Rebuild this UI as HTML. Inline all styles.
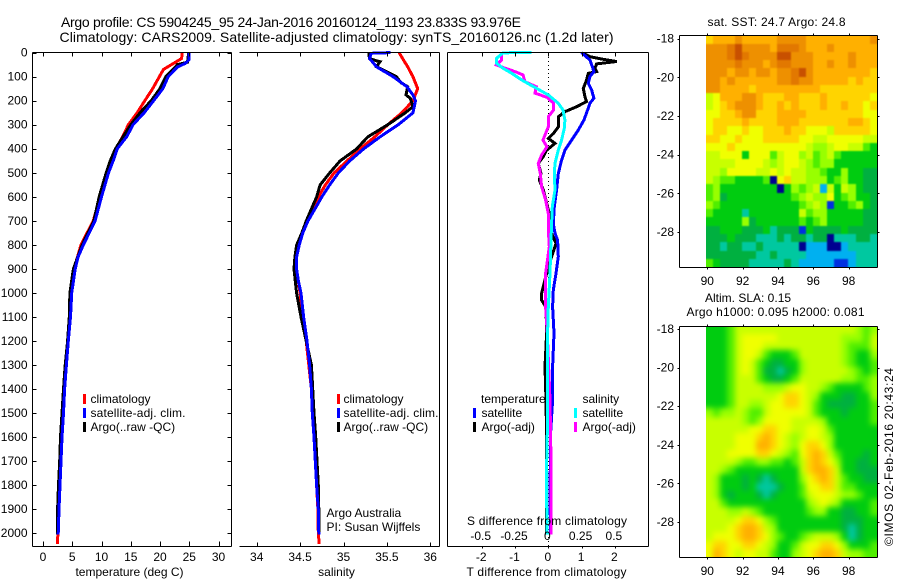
<!DOCTYPE html>
<html>
<head>
<meta charset="utf-8">
<title>Argo profile</title>
<style>
html,body{margin:0;padding:0;background:#fff}
svg{display:block}
text{font-family:"Liberation Sans",sans-serif;font-size:12px;fill:#000}
.title{font-size:14px}
</style>
</head>
<body>
<svg id="chart" xmlns="http://www.w3.org/2000/svg" width="900" height="580" viewBox="0 0 900 580">
<defs>
<clipPath id="clip-sst"><rect x="706" y="35" width="171" height="232"/></clipPath>
<clipPath id="clip-sla"><rect x="706" y="326" width="171" height="231"/></clipPath>
<filter id="soft-sst" filterUnits="userSpaceOnUse" x="680" y="10" width="220" height="280" color-interpolation-filters="sRGB"><feGaussianBlur stdDeviation="0.8"/></filter>
<filter id="soft-sla" filterUnits="userSpaceOnUse" x="680" y="300" width="220" height="280" color-interpolation-filters="sRGB"><feGaussianBlur stdDeviation="3"/></filter>
</defs>
<rect width="900" height="580" fill="#fff"/>
<text class="title" x="61" y="27" textLength="460">Argo profile: CS 5904245_95 24-Jan-2016 20160124_1193 23.833S 93.976E</text>
<text class="title" x="59.5" y="42" textLength="554">Climatology: CARS2009. Satellite-adjusted climatology: synTS_20160126.nc (1.2d later)</text>
<g id="marks"></g>
<g id="axes"></g>

<g>
<rect x="83" y="394" width="3" height="10" fill="#f00"/>
<text x="90.5" y="403">climatology</text>
<rect x="83" y="408" width="3" height="10" fill="#00f"/>
<text x="90.5" y="417" textLength="95">satellite-adj. clim.</text>
<rect x="83" y="422" width="3" height="10" fill="#000"/>
<text x="90.5" y="431">Argo(..raw -QC)</text>
</g>
<g>
<rect x="337" y="394" width="3" height="10" fill="#f00"/>
<text x="343.5" y="403">climatology</text>
<rect x="337" y="408" width="3" height="10" fill="#00f"/>
<text x="343.5" y="417" textLength="95">satellite-adj. clim.</text>
<rect x="337" y="422" width="3" height="10" fill="#000"/>
<text x="343.5" y="431">Argo(..raw -QC)</text>
</g>
<text x="326.5" y="517">Argo Australia</text>
<text x="326.5" y="531">PI: Susan Wijffels</text>

<g>
<text x="481" y="403">temperature</text>
<rect x="473" y="408" width="3" height="10" fill="#00f"/>
<text x="481.5" y="417">satellite</text>
<rect x="473" y="422" width="3" height="10" fill="#000"/>
<text x="481.5" y="431">Argo(-adj)</text>
<text x="582.5" y="403">salinity</text>
<rect x="574" y="408" width="3" height="10" fill="#0ff"/>
<text x="582.5" y="417">satellite</text>
<rect x="574" y="422" width="3" height="10" fill="#f0f"/>
<text x="582.5" y="431">Argo(-adj)</text>
</g>

<text x="129.5" y="576" text-anchor="middle">temperature (deg C)</text>
<text x="336.5" y="576" text-anchor="middle">salinity</text>
<text x="546.5" y="576" text-anchor="middle" textLength="160">T difference from climatology</text>
<text x="547" y="525" text-anchor="middle" textLength="160">S difference from climatology</text>
<text x="707.5" y="26" textLength="138">sat. SST: 24.7 Argo: 24.8</text>
<text x="705" y="302">Altim. SLA: 0.15</text>
<text x="686.5" y="316" textLength="178">Argo h1000: 0.095 h2000: 0.081</text>
<text transform="translate(893,546) rotate(-90)" textLength="178">©IMOS 02-Feb-2016 20:43:24</text>
</svg>

<script>
/* ---------- profile data ---------- */
const depthTicks = [0,100,200,300,400,500,600,700,800,900,1000,1100,1200,1300,1400,1500,1600,1700,1800,1900,2000];
const tempTicks = [0,5,10,15,20,25,30];
const salTicks = [34,34.5,35,35.5,36];
const salTickLabels = ['34','34.5','35','35.5','36'];
const tDiffTicks = [-2,-1,0,1,2];
const tDiffTickLabels = ['-2','-1','0','1','2'];
const sDiffTicks = [-0.5,-0.25,0,0.25,0.5];
const sDiffTickLabels = ['-0.5','-0.25','0','0.25','0.5'];
const lonTicks = [90,92,94,96,98];
const latTicks = [-18,-20,-22,-24,-26,-28];

const tempClimDepth = [0,25,45,70,100,150,200,250,300,350,400,500,600,700,800,900,1000,1100,1200,1300,1400,1500,1600,1700,1800,1900,2005,2045];
const tempClimValue = [23.8,23.7,22.3,20.6,19.9,18.75,17.4,16.1,14.6,13.6,12.5,11,9.75,8.6,6.5,5.3,4.8,4.65,4.3,3.98,3.7,3.48,3.23,3.06,2.88,2.7,2.55,2.45];
const tempSatDepth = [0,30,45,60,100,150,200,250,300,350,400,450,500,600,700,800,850,900,1000,1100,1200,1300,1400,1500,1600,1700,1800,1900,2005];
const tempSatValue = [24.96,24.96,24.3,23,21.4,20.5,18.9,17.3,15.4,14.3,12.7,12,11.2,10,8.9,6.9,6,5.5,4.9,4.7,4.33,4,3.7,3.5,3.25,3.08,2.9,2.73,2.6];
const tempArgoDepth = [0,40,50,100,150,200,250,300,350,400,450,500,600,700,800,900,1000,1100,1200,1300,1400,1500,1600,1700,1800,1900,2005];
const tempArgoValue = [24.9,24.7,23,21,20,18.5,16.6,15,13.7,12.4,11.5,10.8,9.6,8.7,6.7,5.2,4.6,4.5,4.2,3.8,3.5,3.25,3,2.85,2.65,2.5,2.45];

const salClimDepth = [0,24,59,100,150,201,251,300,351,401,451,501,551,601,651,701,751,801,851,901,1001,1100,1200,1300,1400,1500,1600,1700,1800,1900,2000,2045];
const salClimValue = [35.64,35.68,35.74,35.8,35.855,35.8,35.67,35.51,35.36,35.19,35.04,34.89,34.79,34.71,34.645,34.58,34.52,34.46,34.44,34.46,34.5,34.53,34.57,34.6,34.63,34.64,34.66,34.675,34.69,34.705,34.71,34.72];
const salSatDepth = [0,3,24,59,100,142,176,201,251,300,351,401,451,501,551,601,651,701,751,801,851,901,951,1001,1100,1200,1300,1400,1500,1600,1700,1800,1900,2005];
const salSatValue = [35.54,35.32,35.3,35.38,35.57,35.73,35.8,35.83,35.8,35.63,35.42,35.23,35.07,34.94,34.84,34.75,34.67,34.59,34.53,34.49,34.46,34.46,34.48,34.51,34.54,34.58,34.61,34.63,34.64,34.66,34.675,34.69,34.71,34.715];
const salArgoDepth = [0,24,32,38,59,80,100,125,142,176,190,225,251,300,351,401,451,501,551,601,651,701,751,801,851,901,1001,1100,1200,1300,1400,1500,1600,1700,1800,1900,2005];
const salArgoValue = [35.29,35.3,35.36,35.42,35.38,35.5,35.61,35.66,35.74,35.72,35.77,35.8,35.71,35.51,35.28,35.15,34.96,34.84,34.73,34.69,34.63,34.57,34.52,34.46,34.44,34.43,34.46,34.51,34.57,34.63,34.645,34.66,34.68,34.695,34.71,34.715,34.715];

const diffTSatDepth = [0,31,58,79,100,128,155,190,211,239,281,322,364,406,447,503,572,641,711,752,780,849,919,988,1058,1168,1307,1446,1584,1723,1862,2005];
const diffTSatValue = [1,1.25,1.32,1.37,1.25,1.2,1.3,1.37,1.25,1.18,1.07,0.9,0.7,0.5,0.4,0.3,0.25,0.18,0.15,0.2,0.28,0.3,0.23,0.15,0.13,0.17,0.13,0.13,0.07,0.06,0.05,0.07];
const diffTArgoDepth = [0,3,17,28,37,47,65,79,86,114,149,183,204,225,246,267,309,337,357,378,406,433,461,503,530,572,627,669,738,794,849,919,1002,1030,1060,1168,1307,1446,1600,2005];
const diffTArgoValue = [1.05,1.05,1.25,1.65,2.05,1.45,1.4,1.45,1.2,1.15,1.05,1.1,1.15,0.85,0.5,0.3,0.3,0.15,0,0.2,-0.05,-0.15,-0.3,-0.22,-0.27,-0.15,-0.05,0.03,0.05,0.23,0.1,-0.05,-0.2,-0.2,-0.07,-0.05,-0.1,-0.07,-0.05,-0.05];
const diffSSatDepth = [0,1,24,44,65,86,114,142,176,211,239,281,315,364,406,461,503,572,641,711,780,919,1058,1168,1307,1446,1584,1723,1862,2005];
const diffSSatValue = [-0.125,-0.34,-0.39,-0.39,-0.34,-0.275,-0.2,-0.11,0,0.075,0.11,0.125,0.12,0.1,0.075,0.05,0.045,0.05,0.03,0.025,0.02,0.0125,0,-0.005,-0.0075,-0.0075,-0.0075,-0.0125,-0.0125,-0.0075];
const diffSArgoDepth = [0,3,31,51,65,79,93,121,142,169,186,211,239,267,309,343,364,392,426,461,503,558,613,669,738,808,919,1058,1168,1446,1700,2005];
const diffSArgoValue = [-0.35,-0.35,-0.35,-0.39,-0.325,-0.25,-0.19,-0.175,-0.09,-0.1,-0.01,0.04,0.04,0,0,-0.025,-0.04,-0.01,-0.05,-0.075,-0.06,-0.05,-0.02,0,0,0.0075,-0.02,-0.02,-0.0075,0.0125,0.02,0.02];

/* ---------- map data: colour class per cell, north to south ---------- */
const levelColours = ['#000090','#0030e0','#00b0f0','#00c8a0','#00b040','#00cc10','#50ee00','#98ff00','#c8ff00','#f0ff00','#ffd400','#ffb000','#ee9000','#e27800','#c85000'];
const sstRows = [
[10,11,11,11,12,11,11,11,11,11,12,12,12,12,11,11,11,11,11,11,11,11,11,12],
[12,12,12,13,14,12,12,12,12,11,13,13,13,12,11,11,11,12,11,11,11,11,11,11],
[12,12,12,13,14,13,12,12,12,12,14,14,12,12,12,11,11,11,11,11,12,11,11,11],
[12,12,12,12,13,12,12,12,11,12,13,13,12,12,12,11,11,12,11,11,12,11,11,11],
[12,12,12,11,12,12,11,12,12,11,12,12,13,14,12,11,11,11,11,11,11,11,11,10],
[12,12,11,12,11,11,11,11,11,11,12,12,13,12,12,11,11,11,11,11,10,11,10,10],
[12,12,11,11,11,11,10,11,11,11,11,11,11,11,11,11,10,10,10,10,10,10,10,10],
[8,9,11,11,11,12,12,11,10,10,10,11,11,10,10,10,11,10,10,10,10,10,10,9],
[8,9,10,11,12,12,12,11,10,10,11,10,11,10,10,10,11,10,10,11,10,10,9,10],
[9,9,10,10,11,12,12,10,10,10,11,11,11,11,10,10,10,10,10,10,10,10,9,9],
[9,10,10,10,10,11,10,10,10,10,11,11,11,10,10,10,10,10,10,10,11,11,10,9],
[9,10,10,9,9,10,9,9,10,10,10,11,10,10,9,9,9,8,10,10,10,10,10,9],
[10,10,9,9,10,9,9,9,10,10,10,10,10,9,9,8,8,9,9,9,9,9,8,8],
[9,9,9,10,9,9,9,9,9,9,9,9,9,9,8,7,7,8,9,9,8,8,6,5],
[8,8,9,9,9,5,9,9,9,6,8,9,9,7,8,6,7,8,6,5,5,5,5,5],
[8,8,8,8,9,9,9,9,8,7,8,9,9,8,7,6,7,7,5,5,5,5,5,5],
[8,8,7,9,9,9,9,8,8,9,8,9,8,8,7,7,6,5,5,7,5,5,4,4],
[8,7,6,6,5,5,5,5,6,0,9,10,8,8,7,7,7,5,6,7,5,5,4,4],
[6,7,5,5,5,5,5,5,5,5,0,5,7,6,7,8,2,8,5,8,7,5,4,4],
[6,7,4,5,5,5,5,5,5,5,5,5,6,7,8,7,7,9,5,6,7,5,5,4],
[7,6,5,5,5,5,5,5,5,5,5,5,5,6,7,8,7,1,5,5,6,7,5,4],
[6,5,5,5,5,3,5,5,5,5,5,5,5,8,6,7,7,5,5,5,5,5,4,4],
[5,5,5,5,5,7,4,5,5,5,5,5,5,6,5,6,7,5,5,5,5,5,4,4],
[4,4,5,5,5,4,4,4,5,3,4,4,4,1,5,4,4,4,4,5,4,4,4,4],
[4,4,4,5,4,4,4,3,3,3,4,3,4,4,3,4,4,0,3,3,3,4,4,3],
[4,4,3,4,4,3,3,4,3,3,3,3,3,0,2,2,2,0,0,2,3,3,3,3],
[4,4,4,4,4,4,4,3,3,4,3,3,3,3,2,2,2,2,2,2,2,3,3,3],
[6,5,4,4,4,4,3,3,3,3,3,4,3,2,2,2,2,2,1,1,2,3,3,3]
];
const slaRows = [
[5,5,5,6,8,8,8,8,8,8,8,8,8,8,8,8,8,8,8,8,8,7,6,7],
[5,5,5,6,8,9,9,9,9,9,8,8,8,8,8,8,8,8,8,7,7,7,6,8],
[5,5,5,6,8,9,9,9,8,8,8,8,8,8,8,8,8,8,8,7,6,6,6,8],
[5,5,5,6,8,9,9,8,6,5,5,5,6,8,8,8,8,8,8,7,6,5,5,7],
[5,5,5,6,8,9,8,6,5,4,4,5,5,7,8,8,8,8,8,7,6,5,5,6],
[5,5,5,6,8,9,8,6,4,4,3,4,5,7,8,8,8,8,8,8,7,6,5,6],
[5,5,5,6,8,8,8,6,5,4,4,5,6,8,8,8,8,8,8,7,7,6,6,7],
[5,5,5,6,8,8,8,8,7,7,7,8,9,9,8,8,7,6,5,5,5,5,6,7],
[5,5,5,6,8,8,8,8,8,8,9,10,10,9,8,7,5,5,5,4,4,5,5,7],
[5,5,5,6,8,8,7,7,8,9,9,10,10,9,8,6,5,4,4,4,4,5,5,6],
[7,6,7,7,8,7,6,6,8,9,9,9,9,9,8,6,5,5,5,4,5,5,5,6],
[8,8,8,8,8,7,6,7,9,9,9,9,8,8,8,8,7,5,5,5,5,5,5,6],
[8,8,8,8,8,8,9,9,10,10,9,9,8,8,9,9,8,6,5,5,5,5,5,5],
[8,8,8,8,9,9,9,10,11,10,9,8,7,8,9,9,8,7,5,5,5,5,5,5],
[8,8,8,8,9,9,9,11,11,10,9,8,7,9,10,10,9,7,5,5,5,5,5,5],
[8,8,8,9,9,9,9,10,10,9,8,7,6,9,10,11,10,8,6,5,5,5,4,5],
[8,8,8,8,7,6,6,7,7,6,6,5,6,8,10,11,10,9,7,5,5,4,4,5],
[8,8,7,6,5,5,5,5,5,5,5,5,5,8,10,11,11,10,8,5,5,4,4,4],
[8,7,5,5,5,4,5,4,3,4,5,5,5,7,9,10,11,10,8,6,5,5,4,4],
[8,7,5,5,5,4,5,3,3,3,4,5,5,6,9,9,10,10,8,6,6,5,5,5],
[8,7,5,4,5,5,5,4,3,4,5,5,5,6,8,9,9,9,8,7,7,6,5,5],
[8,8,6,5,5,5,5,5,5,5,5,5,5,5,7,8,9,8,7,5,5,5,5,6],
[8,8,8,7,7,8,7,6,5,5,5,5,5,5,6,7,7,5,5,4,4,5,5,6],
[8,8,8,8,9,10,10,9,7,6,5,5,5,5,5,5,5,5,5,4,4,4,5,5],
[8,8,8,9,10,11,11,10,8,7,5,5,5,5,5,5,5,5,5,4,3,4,5,5],
[8,9,9,9,10,11,11,10,9,7,6,5,5,6,7,8,8,8,7,5,3,4,5,5],
[9,10,10,9,9,10,10,9,8,7,5,5,6,8,9,9,10,10,9,7,5,5,5,6],
[9,11,10,9,8,9,9,8,8,6,5,5,7,8,9,10,11,11,10,8,7,7,6,6]
];

/* ---------- geometry ---------- */
const NS = 'http://www.w3.org/2000/svg';
const marks = document.getElementById('marks');
const axes = document.getElementById('axes');
const depthY = d => 52.6 + d * 0.2403;
const tempX = v => 43 + v * 5.85;
const salX = v => 256.7 + (v - 34) * 86.8;
const tDiffX = v => 548.3 + v * 33.3;
const sDiffX = v => 548.3 + v * 133.2;
const lonX = v => 707.3 + (v - 90) * 17.67;
const lat1Y = v => 38.7 + (-18 - v) * 19.33;
const lat2Y = v => 329 + (-18 - v) * 19.3;

function line(x1, y1, x2, y2) {
  const el = document.createElementNS(NS, 'line');
  el.setAttribute('x1', Math.round(x1) + 0.5);
  el.setAttribute('y1', Math.round(y1) + 0.5);
  el.setAttribute('x2', Math.round(x2) + 0.5);
  el.setAttribute('y2', Math.round(y2) + 0.5);
  el.setAttribute('stroke', '#000');
  el.setAttribute('stroke-width', '1');
  el.setAttribute('shape-rendering', 'crispEdges');
  
  
  axes.appendChild(el);
  return el;
}
function label(str, x, y, anchor) {
  const el = document.createElementNS(NS, 'text');
  el.setAttribute('x', x);
  el.setAttribute('y', y);
  el.setAttribute('text-anchor', anchor);
  el.textContent = str;
  
  
  axes.appendChild(el);
}
function series(depths, values, xFn, colour, width, name) {
  const el = document.createElementNS(NS, 'polyline');
  el.setAttribute('points', values.map((v, i) => xFn(v).toFixed(1) + ',' + depthY(depths[i]).toFixed(1)).join(' '));
  el.setAttribute('fill', 'none');
  el.setAttribute('stroke', colour);
  el.setAttribute('stroke-width', width);
  el.setAttribute('shape-rendering', 'crispEdges');
  
  
  marks.appendChild(el);
}
function heatmap(rows, yFn, clipId, filterId, groupName, cellName) {
  const clipGroup = document.createElementNS(NS, 'g');
  clipGroup.setAttribute('clip-path', 'url(#' + clipId + ')');
  
  
  const softGroup = document.createElementNS(NS, 'g');
  softGroup.setAttribute('filter', 'url(#' + filterId + ')');
  
  
  clipGroup.appendChild(softGroup);
  marks.appendChild(clipGroup);
  const lonStep = 9.67 / 24, latStep = 12 / 28, pad = 12;
  rows.forEach((row, r) => row.forEach((lvl, c) => {
    let x1 = Math.round(lonX(89.93 + c * lonStep));
    let x2 = Math.round(lonX(89.93 + (c + 1) * lonStep));
    let y1 = Math.round(yFn(-17.82 - r * latStep));
    let y2 = Math.round(yFn(-17.82 - (r + 1) * latStep));
    if (c === 0) x1 -= pad;
    if (c === row.length - 1) x2 += pad;
    if (r === 0) y1 -= pad;
    if (r === rows.length - 1) y2 += pad;
    const el = document.createElementNS(NS, 'rect');
    el.setAttribute('x', x1);
    el.setAttribute('y', y1);
    el.setAttribute('width', x2 - x1);
    el.setAttribute('height', y2 - y1);
    el.setAttribute('fill', levelColours[lvl]);
    el.setAttribute('shape-rendering', 'crispEdges');
    
    
    softGroup.appendChild(el);
  }));
}

/* ---------- marks ---------- */
heatmap(sstRows, lat1Y, 'clip-sst', 'soft-sst', 'sst-map', 'sst-map-cell');
heatmap(slaRows, lat2Y, 'clip-sla', 'soft-sla', 'sla-map', 'sla-map-cell');

series(tempClimDepth, tempClimValue, tempX, '#f00', 3, 'temperature-climatology-line');
series(tempArgoDepth, tempArgoValue, tempX, '#000', 3, 'temperature-argo-line');
series(tempSatDepth, tempSatValue, tempX, '#00f', 3, 'temperature-satellite-line');

series(salClimDepth, salClimValue, salX, '#f00', 3, 'salinity-climatology-line');
series(salArgoDepth, salArgoValue, salX, '#000', 3, 'salinity-argo-line');
series(salSatDepth, salSatValue, salX, '#00f', 3, 'salinity-satellite-line');

const zeroLine = document.createElementNS(NS, 'line');
zeroLine.setAttribute('x1', 548.5);
zeroLine.setAttribute('y1', 53);
zeroLine.setAttribute('x2', 548.5);
zeroLine.setAttribute('y2', 546);
zeroLine.setAttribute('stroke', '#000');
zeroLine.setAttribute('stroke-dasharray', '1 3');
zeroLine.setAttribute('shape-rendering', 'crispEdges');


marks.appendChild(zeroLine);

series(diffTArgoDepth, diffTArgoValue, tDiffX, '#000', 3, 't-difference-argo-line');
series(diffTSatDepth, diffTSatValue, tDiffX, '#00f', 3, 't-difference-satellite-line');
series(diffSArgoDepth, diffSArgoValue, sDiffX, '#f0f', 3, 's-difference-argo-line');
series(diffSSatDepth, diffSSatValue, sDiffX, '#0ff', 3, 's-difference-satellite-line');

/* ---------- profile axes ---------- */
const top_ = 52, bottom = 546;
line(32, top_, 231, top_); line(32, bottom, 231, bottom); line(32, top_, 32, bottom); line(231, top_, 231, bottom);
line(239, top_, 439, top_); line(239, bottom, 439, bottom); line(439, top_, 439, bottom);
line(447, top_, 648, top_); line(447, bottom, 648, bottom); line(447, top_, 447, bottom); line(648, top_, 648, bottom);

depthTicks.forEach(d => {
  line(32, depthY(d), 36, depthY(d));
  line(227, depthY(d), 231, depthY(d));
  label(String(d), 27.5, depthY(d) + 4, 'end');
});
tempTicks.forEach(v => {
  line(tempX(v), top_, tempX(v), top_ + 4);
  line(tempX(v), bottom - 5, tempX(v), bottom);
  label(String(v), tempX(v), 561, 'middle');
});
salTicks.forEach((v, i) => {
  line(salX(v), top_, salX(v), top_ + 4);
  line(salX(v), bottom - 4, salX(v), bottom);
  label(salTickLabels[i], salX(v), 561, 'middle');
});
tDiffTicks.forEach((v, i) => {
  line(tDiffX(v), top_, tDiffX(v), top_ + 4);
  line(tDiffX(v), bottom, tDiffX(v), bottom + 2);
  label(tDiffTickLabels[i], tDiffX(v) - 0.5, 561, 'middle');
});
sDiffTicks.forEach((v, i) => {
  label(sDiffTickLabels[i], sDiffX(v) - 1, 540, 'middle');
});

/* ---------- map axes ---------- */
function mapAxes(yFn, boxTop, boxBottom, xLabelY) {
  line(679, boxTop, 877, boxTop);
  line(679, boxBottom, 877, boxBottom);
  line(679, boxTop, 679, boxBottom);
  line(877, boxTop, 877, boxBottom);
  lonTicks.forEach(v => {
    line(lonX(v), boxTop - 2, lonX(v), boxTop);
    line(lonX(v), boxBottom, lonX(v), boxBottom + 2);
    label(String(v), lonX(v), xLabelY, 'middle');
  });
  latTicks.forEach(v => {
    line(677, yFn(v), 679, yFn(v));
    line(877, yFn(v), 879, yFn(v));
    label(String(v), 674, yFn(v) + 4, 'end');
  });
}
mapAxes(lat1Y, 35, 267, 285);
mapAxes(lat2Y, 326, 557, 575);
</script>
</body>
</html>
